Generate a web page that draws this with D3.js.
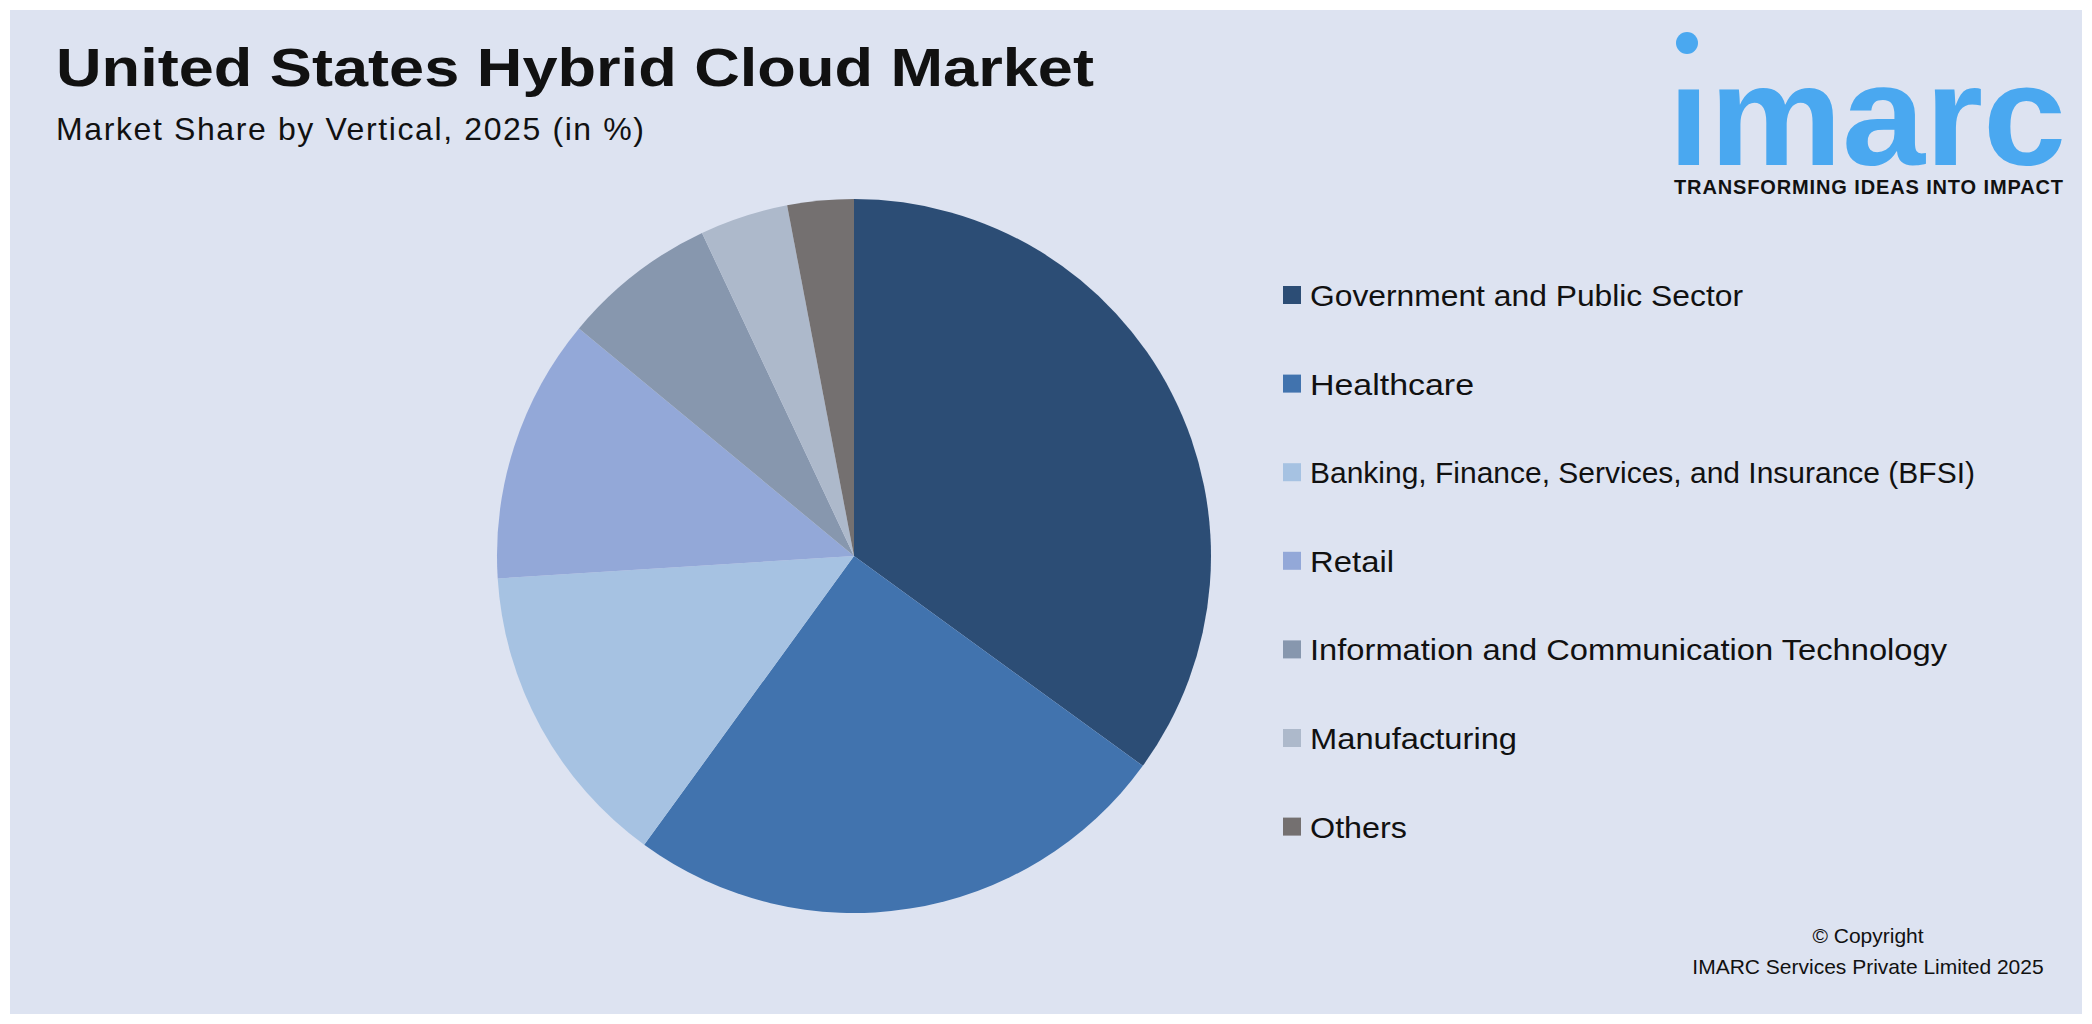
<!DOCTYPE html>
<html><head><meta charset="utf-8">
<script src="https://cdn.jsdelivr.net/npm/d3@7"></script>
<style>body{margin:0;background:#fff}svg{display:block;font-family:Arial,"Liberation Sans",sans-serif}</style>
</head><body><svg id="chart" width="2092" height="1024"></svg>
<script>
let verticals = ["Government and Public Sector", "Healthcare", "Banking, Finance, Services, and Insurance (BFSI)", "Retail", "Information and Communication Technology", "Manufacturing", "Others"];
let shares = [35, 25, 14, 12, 7, 4, 3];
let colors = ["#2c4d75", "#4173ae", "#a6c2e2", "#93a8d8", "#8797ae", "#adb9cb", "#747070"];
let legendWidths = [433, 164, 665, 84, 637, 207, 97];

let svg = d3.select("#chart");
svg.append("rect").attr("x", 10).attr("y", 10).attr("width", 2072).attr("height", 1004).attr("fill", "#dde3f1");

svg.append("text").attr("x", 56).attr("y", 86).attr("font-size", 54).attr("font-weight", "bold").attr("fill", "#111")
  .attr("textLength", 1038).attr("lengthAdjust", "spacingAndGlyphs").text("United States Hybrid Cloud Market");
svg.append("text").attr("x", 56).attr("y", 140).attr("font-size", 32).attr("fill", "#111")
  .attr("textLength", 588).text("Market Share by Vertical, 2025 (in %)");

// logo
svg.append("circle").attr("cx", 1687).attr("cy", 43).attr("r", 11).attr("fill", "#4aa8f0");
svg.append("text").attr("x", 1668).attr("y", 165).attr("font-size", 142).attr("font-weight", "bold").attr("fill", "#4aa8f0").attr("textLength", 398).attr("lengthAdjust", "spacingAndGlyphs").text("ımarc");
svg.append("text").attr("x", 1674).attr("y", 194).attr("font-size", 20).attr("font-weight", "bold").attr("fill", "#111").attr("textLength", 389).text("TRANSFORMING IDEAS INTO IMPACT");

// pie
let pie = d3.pie().sort(null).value(d => d)(shares);
let arc = d3.arc().innerRadius(0).outerRadius(357);
svg.append("g").attr("transform", "translate(854,556)")
  .selectAll("path").data(pie).enter().append("path")
  .attr("d", arc).attr("fill", (d, i) => colors[i]);

// legend
let legend = svg.selectAll("g.leg").data(verticals).enter().append("g").attr("class", "leg")
  .attr("transform", (d, i) => `translate(1283,${295 + i * 88.6})`);
legend.append("rect").attr("x", 0).attr("y", -9).attr("width", 18).attr("height", 18).attr("fill", (d, i) => colors[i]);
legend.append("text").attr("x", 27).attr("y", 11).attr("font-size", 30).attr("fill", "#111")
  .attr("textLength", (d, i) => legendWidths[i]).attr("lengthAdjust", "spacingAndGlyphs").text(d => d);

svg.append("text").attr("x", 1868).attr("y", 943).attr("text-anchor", "middle").attr("font-size", 21).attr("fill", "#111").text("© Copyright");
svg.append("text").attr("x", 1868).attr("y", 974).attr("text-anchor", "middle").attr("font-size", 21).attr("fill", "#111").text("IMARC Services Private Limited 2025");
</script></body></html>
